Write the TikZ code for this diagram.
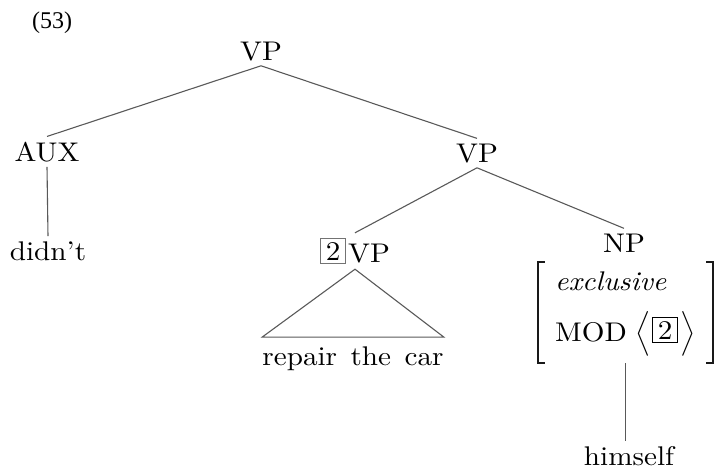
\documentclass[tikz,border=0pt]{standalone}
\usepackage{fix-cm}
\usepackage{amsmath}
\usepackage{fontspec}
\setmainfont{lmroman10-regular.otf}[ItalicFont=lmroman10-italic.otf, BoldFont=lmroman10-bold.otf, FakeStretch=1.08]
\newfontfamily\numfont{Liberation Serif}
\newcommand\tagbox[1][black]{\raisebox{-1pt}{\setlength\fboxsep{0pt}\setlength\fboxrule{1pt}{\color{#1}\fbox{\color{black}\makebox[24pt]{\rule{0pt}{24pt}\raisebox{3pt}{2}}}}}}
\tikzset{
  lbl/.style={anchor=base, inner sep=5pt},
  branch/.style={draw=black!65, line width=1.1pt},
  brack/.style={draw=black!90, line width=1.8pt},
}
\begin{document}
\begin{tikzpicture}[x=1pt, y=-1pt, font=\fontsize{27}{32}\selectfont]
\useasboundingbox (0,0) rectangle (716,469);
\node[anchor=base, inner sep=0pt] (num) at (52,28) {\numfont\fontsize{24}{28}\selectfont (53)};
\node[lbl] (vp0) at (261,60) {VP};
\node[lbl] (aux) at (47,161) {AUX};
\node[lbl] (didnt) at (48,260) {didn't};
\node[lbl] (vp1) at (477,162) {VP};
\node[lbl] (vp2) at (355,262) {\tagbox[black!55]\hspace{2pt}VP};
\node[lbl, inner xsep=0pt, inner ysep=9pt] (rtc) at (353,365) {repair\hspace{0.5em}the\hspace{0.5em}car};
\node[lbl] (np) at (624,252) {NP};
\node[minimum width=175pt, minimum height=101pt, inner sep=0pt] (avm) at (625.5,312.5) {};
\node[anchor=base west, inner sep=0pt] (excl) at (555,290) {\itshape exclusive};
\node[anchor=base west, inner sep=0pt] (mod) at (555,341) {MOD\hspace{0.3em}\smash{$\Bigl\langle$\hspace{2pt}\tagbox\hspace{2pt}$\Bigr\rangle$}};
\node[lbl] (himself) at (629,465) {himself};
\draw[branch] (vp0.south) -- (aux.north);
\draw[branch] (vp0.south) -- (vp1.north);
\draw[branch] (aux.south) -- (didnt.north);
\draw[branch] (vp1.south) -- (vp2.north);
\draw[branch] (vp1.south) -- (np.north);
\draw[branch] (vp2.south) -- (rtc.north west) -- (rtc.north east) -- cycle;
\draw[branch] (avm.south) -- (avm.south |- himself.north);
\draw[brack] ([xshift=7pt]avm.north west) -- (avm.north west) -- (avm.south west) -- ([xshift=7pt]avm.south west);
\draw[brack] ([xshift=-7pt]avm.north east) -- (avm.north east) -- (avm.south east) -- ([xshift=-7pt]avm.south east);
\end{tikzpicture}
\end{document}
